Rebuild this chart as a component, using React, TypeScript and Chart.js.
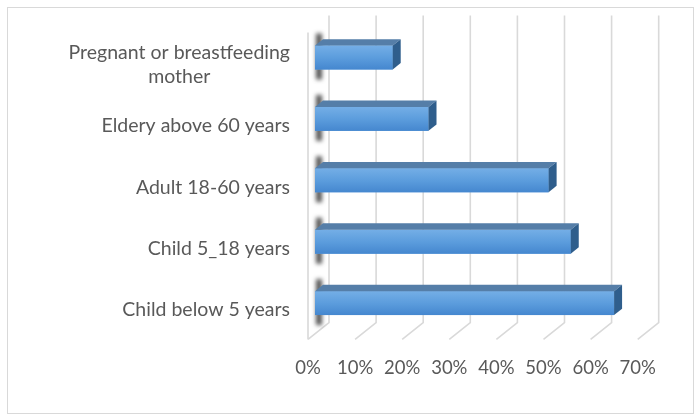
import React, { useEffect, useRef } from "react";
import { Chart, registerables } from "chart.js";

Chart.register(...registerables);

const categories: (string | string[])[] = [
  ["Pregnant or breastfeeding", "mother"],
  "Eldery above 60 years",
  "Adult 18-60 years",
  "Child 5_18 years",
  "Child below 5 years",
];
const values = [0.165, 0.241, 0.496, 0.543, 0.635];
const axisMin = 0;
const axisMax = 0.7;
const axisStep = 0.1;

const FONT = "Lato, 'Noto Sans', sans-serif";
const TEXT = "#595959";
const GRID = "#d9d9d9";

const BACK_DX = 14;
const FRONT_DX = -7;
const SLOPE = 0.8;
const BAR_DX = 8;
const BAR_DY = -6.4;
const LABEL_SIZE = 19.5;
const LABEL_LINE = 24;
const LABEL_GAP = 25;
const LABEL_SHIFT = 7;

const threeD = {
  id: "threeD",
  beforeDraw(chart: any) {
    const ctx = chart.ctx;
    const xs = chart.scales.x;
    const a = chart.chartArea;
    ctx.save();
    ctx.strokeStyle = GRID;
    ctx.lineWidth = 1;
    ctx.strokeRect(7.5, 7.5, 686, 406);
    const backTop = a.top - BACK_DX * SLOPE;
    const backBottom = a.bottom - BACK_DX * SLOPE;
    const frontTop = a.top - FRONT_DX * SLOPE;
    const frontBottom = a.bottom - FRONT_DX * SLOPE;
    ctx.lineWidth = 1.6;
    ctx.strokeStyle = GRID;
    ctx.beginPath();
    xs.ticks.forEach((t: any) => {
      const px = xs.getPixelForValue(t.value);
      ctx.moveTo(px + BACK_DX, backTop);
      ctx.lineTo(px + BACK_DX, backBottom);
      ctx.lineTo(px + FRONT_DX, frontBottom);
    });
    const x0 = xs.getPixelForValue(axisMin);
    ctx.moveTo(x0 + FRONT_DX, frontTop);
    ctx.lineTo(x0 + FRONT_DX, frontBottom);
    ctx.stroke();
    ctx.restore();
  },
  beforeDatasetsDraw(chart: any) {
    const ctx = chart.ctx;
    const meta = chart.getDatasetMeta(0);
    ctx.save();
    ctx.filter = "blur(2px)";
    ctx.fillStyle = "rgba(40,40,40,0.8)";
    meta.data.forEach((el: any) => {
      const top = el.y - el.height / 2;
      const bottom = el.y + el.height / 2;
      ctx.fillRect(el.base + 1, top - 12, 6, bottom - top + 22);
    });
    ctx.restore();
  },
  afterDatasetsDraw(chart: any) {
    const ctx = chart.ctx;
    const meta = chart.getDatasetMeta(0);
    ctx.save();
    meta.data.forEach((el: any) => {
      const top = el.y - el.height / 2;
      const bottom = el.y + el.height / 2;
      const left = el.base;
      const right = el.x;
      const g = ctx.createLinearGradient(0, top, 0, bottom);
      g.addColorStop(0, "#74aee6");
      g.addColorStop(0.5, "#5c9ddd");
      g.addColorStop(1, "#4587cf");
      ctx.fillStyle = g;
      ctx.fillRect(left, top, right - left, bottom - top);
      ctx.fillStyle = "#557ea8";
      ctx.beginPath();
      ctx.moveTo(left, top);
      ctx.lineTo(right, top);
      ctx.lineTo(right + BAR_DX, top + BAR_DY);
      ctx.lineTo(left + BAR_DX, top + BAR_DY);
      ctx.closePath();
      ctx.fill();
      ctx.fillStyle = "#2f5e8c";
      ctx.beginPath();
      ctx.moveTo(right, top);
      ctx.lineTo(right + BAR_DX, top + BAR_DY);
      ctx.lineTo(right + BAR_DX, bottom + BAR_DY);
      ctx.lineTo(right, bottom);
      ctx.closePath();
      ctx.fill();
    });
    ctx.restore();
  },
  afterDraw(chart: any) {
    const ctx = chart.ctx;
    const ys = chart.scales.y;
    const a = chart.chartArea;
    ctx.save();
    ctx.font = `${LABEL_SIZE}px ${FONT}`;
    ctx.fillStyle = TEXT;
    ctx.textBaseline = "middle";
    ctx.textAlign = "center";
    const right = a.left - LABEL_GAP;
    categories.forEach((c, i) => {
      const lines = Array.isArray(c) ? c : [c];
      const w = Math.max(...lines.map((l) => ctx.measureText(l).width));
      const cx = right - w / 2;
      const cy = ys.getPixelForValue(i) + LABEL_SHIFT;
      lines.forEach((l, j) => {
        ctx.fillText(l, cx, cy + (j - (lines.length - 1) / 2) * LABEL_LINE);
      });
    });
    ctx.restore();
  },
};

export default function App() {
  const ref = useRef<HTMLCanvasElement | null>(null);
  useEffect(() => {
    if (!ref.current) return;
    const chart = new Chart(ref.current, {
      type: "bar",
      data: {
        labels: categories.map((c) => (Array.isArray(c) ? c.join(" ") : c)),
        datasets: [
          {
            data: values,
            backgroundColor: "#5c9ddd",
            borderWidth: 0,
            categoryPercentage: 1,
            barPercentage: 0.39,
          },
        ],
      },
      options: {
        indexAxis: "y",
        responsive: false,
        animation: false,
        devicePixelRatio: 1,
        layout: { padding: { left: 8, top: 26.8, right: 49.3, bottom: 0 } },
        plugins: {
          legend: { display: false },
          tooltip: { enabled: false },
        },
        scales: {
          x: {
            min: axisMin,
            max: axisMax,
            grid: { display: false, drawTicks: false },
            border: { display: false },
            ticks: {
              stepSize: axisStep,
              padding: 23,
              labelOffset: FRONT_DX,
              maxRotation: 0,
              color: TEXT,
              font: { family: FONT, size: 18.5 },
              callback: (v: any) => Math.round(Number(v) * 100) + "%",
            },
            afterFit: (s: any) => {
              s.height = 82.2;
            },
          },
          y: {
            grid: { display: false, drawTicks: false },
            border: { display: false },
            ticks: { display: false },
            afterFit: (s: any) => {
              s.width = 307;
            },
          },
        },
      },
      plugins: [threeD],
    });
    return () => chart.destroy();
  }, []);
  return (
    <div style={{ position: "fixed", left: 0, top: 0, width: 694, height: 416, background: "#fff" }}>
      <canvas ref={ref} width={694} height={416} />
    </div>
  );
}
